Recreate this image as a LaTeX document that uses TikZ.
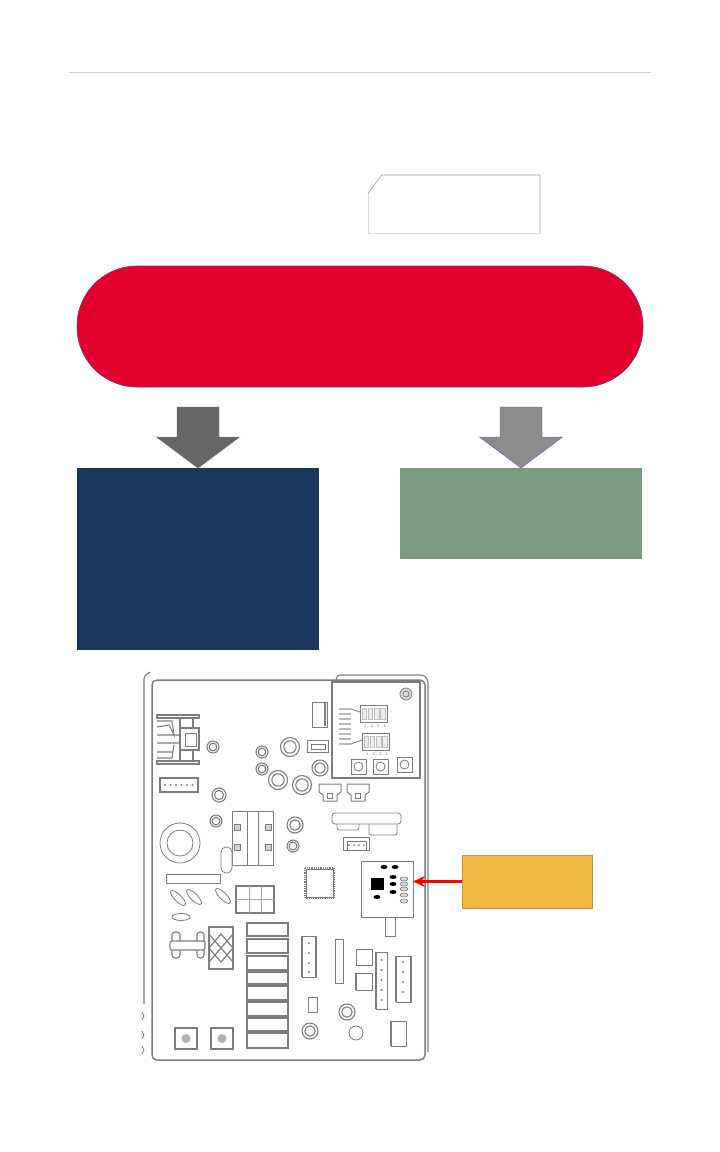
\documentclass[tikz,border=0pt]{standalone}
\usetikzlibrary{calc, positioning, arrows.meta}
\definecolor{pillRed}{RGB}{228, 0, 46}
\definecolor{pillEdge}{RGB}{130, 50, 110}
\definecolor{boxNavy}{RGB}{27, 54, 93}
\definecolor{boxGreen}{RGB}{124, 154, 126}
\definecolor{boxGold}{RGB}{239, 185, 70}
\definecolor{partGray}{RGB}{125, 125, 125}
\tikzset{
  block/.style={rectangle, inner sep=0pt, outer sep=0pt, draw=none},
  part/.style={draw=partGray, line width=0.8pt},
  heavy/.style={draw=partGray, line width=1.5pt},
  blackpad/.style={fill=black, draw=none},
  digit/.style={font=\fontsize{4}{4}\selectfont, text=partGray, inner sep=0pt}
}
\begin{document}
\begin{tikzpicture}[x=1pt, y=-1pt, >=Stealth]
  \useasboundingbox (0,0) rectangle (720,1152);
  % Header rule
  \draw[gray!35, line width=0.8pt] (69,72) -- (651,72);
  % Snipped box
  \draw[gray!30, line width=0.8pt] (368,193) -- (368,233) -- (540,233);
  \draw[gray!80, line width=0.6pt] (368,193) -- (382,175) -- (540,175) -- (540,233);
  % Flow
  \node[block, fill=pillRed, draw=pillEdge, line width=0.6pt, rounded corners=60pt,
    minimum width=566pt, minimum height=121pt] (pill) at (360,326.5) {};
  \node[block, fill=boxNavy, minimum width=242pt, minimum height=182pt] (navy) at (198,559) {};
  \node[block, fill=boxGreen, minimum width=242pt, minimum height=91pt] (green) at (521,513.5) {};
  \foreach \x/\c/\e in {198/black!60/black!60, 521/black!45/blue!30!gray}
    \draw[fill=\c, draw=\e, line width=0.4pt] (\x-21,407) -- (\x+21,407) -- (\x+21,437) -- (\x+41.5,437)
      -- (\x,468) -- (\x-41.5,437) -- (\x-21,437) -- cycle;
  % Board outline
  \draw[heavy, rounded corners=5pt] (152,680) rectangle (425,1060);
  \draw[part, line width=1.1pt, rounded corners=3pt] (150,672) -- (144,676) -- (144,1004);
  \draw[part, line width=1.1pt, rounded corners=3pt] (336,681) -- (337,675) -- (424,675) -- (428,680) -- (428,1052);
  \foreach \y in {1016, 1035, 1050}
    \draw[part] (142,\y-4) -- (144,\y) -- (142,\y+4);
  % Switch panel
  \draw[part, line width=1.2pt, fill=white] (332,682) rectangle (420,778);
  \draw[part, fill=gray!30] (406,694) circle (6pt);
  \draw[part] (406,694) circle (3pt);
  \foreach \x/\y in {360/705, 362/733} {
    \draw[part] (\x,\y) rectangle ++(27,17);
    \foreach \i in {0,1,2,3}
      \draw[gray!50, fill=gray!15, line width=0.6pt] (\x+2+6.2*\i,\y+3) rectangle ++(4.5,11);
    \foreach \i in {1,2,3,4}
      \node[digit] (dip\y\i) at (\x+2+6.4*\i-3,\y+21) {\i};
  }
  \foreach \y in {709,714,719,724,729,734,739,744}
    \draw[gray!55, line width=1.5pt] (339,\y) -- (351,\y);
  \draw[part] (351,709) -- (360,712) (351,744) -- (362,740);
  \foreach \x/\y in {351/759, 373/759, 397/757} {
    \draw[part] (\x,\y) rectangle ++(15,15);
    \draw[part] (\x+7.5,\y+7.5) circle (4.5pt);
  }
  % Rings
  \foreach \x/\y/\r in {213/747/6, 262/752/6, 262/769/6, 290/747/9.5, 278/780/9.5, 302/785/9.5,
      320/768/8, 219/795/7, 216/821/6, 295/825/8, 293/846/6, 347/1012/8, 310/1031/8}
    \draw[part, line width=1.1pt] (\x,\y) circle (\r pt) (\x,\y) circle (0.65*\r pt);
  \draw[part] (180,843) circle (20pt) (180,843) circle (13pt);
  \draw[part] (356,1033) circle (7pt);
  % Heat sink
  \draw[part, line width=1.1pt] (157,715) rectangle (199,718) (157,761) rectangle (199,764)
    (180,718) -- (180,761) (193,718) -- (193,761);
  \draw[part, line width=1.1pt] (157,721) -- (172,721) -- (174,735) -- (169,725) -- (157,727)
    (157,735) -- (180,735) (157,743) -- (180,743)
    (157,752) -- (172,752) (174,745) -- (172,758) -- (157,758);
  \draw[part, line width=1.2pt, fill=white] (180,728) rectangle (199,750);
  \draw[part] (185,733) rectangle (196,746);
  % Rectangles
  \foreach \xa/\ya/\xb/\yb in {312/702/327/727, 307/740/328/752,
      343/837/369/850, 385/917/395/936, 166/874/220/883, 335/939/343/983,
      356/949/372/965, 356/973/372/990, 376/952/387/1009, 396/956/411/1002,
      308/997/317/1012, 391/1021/406/1046, 302/936/316/977}
    \draw[part, fill=white] (\xa,\ya) rectangle (\xb,\yb);
  \draw[part, line width=1.4pt] (325,703) -- (325,726);
  \draw[part] (311,744) rectangle (325,749);
  \foreach \x in {319, 347} {
    \draw[part, line width=1pt] (\x,784) -- (\x+22,784) -- (\x+22,792) -- (\x+18,795) -- (\x+18,801)
      -- (\x+4,801) -- (\x+4,795) -- (\x,792) -- cycle;
    \draw[part] (\x+8,793) rectangle ++(5,5);
  }
  \foreach \i in {0,...,5} \fill[gray] (165+5.5*\i,785) circle (1.2pt);
  \draw[part, line width=1.1pt] (160,778) rectangle (198,792);
  \draw[part] (347,841) rectangle (366,850);
  \foreach \i in {0,1,2,3} \fill[gray] (349+5*\i,845) circle (1pt);
  \foreach \y in {960,970,980,990,1000} \fill[gray] (381.5,\y) circle (1.1pt);
  \foreach \y in {962,972,982,992} \fill[gray] (403,\y) circle (1.1pt);
  \foreach \y in {943,953,963,972} \fill[gray] (309,\y) circle (1.1pt);
  \draw[heavy] (396,956) -- (396,1002) (411,956) -- (411,1002) (376,952) -- (376,1009);
  \draw[heavy] (302,936) -- (302,977) (316,936) -- (316,977);
  \draw[heavy] (356,973) -- (356,990) (391,1021) -- (391,1046);
  % Top right rails
  \draw[part, fill=white, rounded corners=3pt] (332,813) rectangle (401,824);
  \draw[part, rounded corners=2pt] (337,824) -- (337,830) -- (359,830) -- (359,824)
    (369,824) -- (369,835) -- (397,835) -- (397,824);
  % Transformer
  \draw[part, fill=white] (232,811) rectangle (273,865);
  \draw[part] (247,811) -- (247,865) (258,811) -- (258,865);
  \foreach \x/\y in {237/827, 237/847, 268/827, 268/847}
    \draw[part, fill=gray!35] (\x-3,\y-3) rectangle ++(6,6);
  \draw[part, fill=white, rounded corners=5pt] (221,847) rectangle (232,873);
  % Slanted ovals
  \foreach \x/\y/\a/\l in {178/898/-45/10, 194/897/-45/10, 223/896/-45/10, 181/917/0/9}
    \draw[part, rotate around={\a:(\x,\y)}] (\x,\y) ellipse (\l pt and 3.5pt);
  % Small relay block
  \draw[heavy] (236,886) rectangle (274,913);
  \draw[part, gray!70] (236,899) -- (274,899) (249,886) -- (249,913) (261,886) -- (261,913);
  % Square IC
  \draw[part, densely dotted, line width=1.6pt] (305,868) rectangle (334,898);
  \draw[part, fill=white] (306,869) rectangle (333,897);
  % Transistor
  \draw[part, line width=1.1pt, rounded corners=3pt] (172,932) rectangle (180,958) (197,932) rectangle (204,958);
  \draw[part, line width=1.1pt, fill=white, rounded corners=2pt] (170,941) rectangle (205,950);
  % Diode block
  \draw[part, line width=1.1pt] (209,927) rectangle (233,969);
  \foreach \y in {941, 955}
    \draw[part, line width=1.2pt] (209,\y-7) -- (221,\y+7) -- (233,\y-7) (209,\y+7) -- (221,\y-7) -- (233,\y+7);
  % Relay stack
  \foreach \ya/\yb in {923/936, 939/953, 956/970, 972/984, 986/1000, 1002/1016, 1018/1031, 1033/1048}
    \draw[part, line width=1.1pt] (247,\ya) rectangle (288,\yb);
  % Knobs
  \foreach \x in {175, 211} {
    \draw[part, line width=1.2pt] (\x,1028) rectangle ++(22,21);
    \fill[gray!60] (\x+11,1038.5) circle (4.5pt);
  }
  % Chip module
  \node[block, draw=partGray, line width=1pt, fill=white, minimum width=52pt, minimum height=56pt] (chip) at (387,889) {};
  \foreach \x/\y in {384/867, 395/867, 393/877, 393/884, 393/892, 377/897}
    \fill[blackpad] (\x,\y) ellipse (3.5pt and 2pt);
  \fill[blackpad] (371,878) rectangle (384,890);
  \foreach \y in {879, 884, 889, 895, 901}
    \draw[part, fill=gray!30, line width=0.6pt] (404,\y) ellipse (4pt and 2pt);
  % Callout
  \node[block, fill=boxGold, draw=boxGold!80!black, line width=0.4pt, minimum width=130pt, minimum height=53pt] (gold) at (527,881.5) {};
  \draw[-{Stealth[length=12pt, width=11pt]}, red, line width=2.4pt] (gold.west) -- (gold.west -| chip.east);
\end{tikzpicture}
\end{document}
